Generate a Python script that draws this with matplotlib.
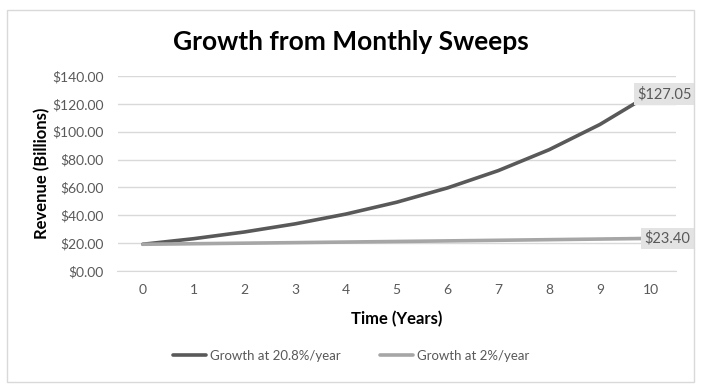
import matplotlib
matplotlib.use("Agg")
import matplotlib.pyplot as plt
from matplotlib.patches import Rectangle

years = [0, 1, 2, 3, 4, 5, 6, 7, 8, 9, 10]
growth_high = [19.20, 23.19, 28.02, 33.85, 40.89, 49.39, 59.66, 72.07, 87.06, 105.17, 127.05]
growth_low = [19.20, 19.58, 19.98, 20.37, 20.78, 21.20, 21.62, 22.05, 22.50, 22.94, 23.40]
yticks = [0, 20, 40, 60, 80, 100, 120, 140]
series_names = ["Growth at 20.8%/year", "Growth at 2%/year"]

plt.rcParams['font.family'] = ['Lato', 'DejaVu Sans']

W, H = 701, 391
fig = plt.figure(figsize=(W/100, H/100), dpi=100)
fig.patch.set_facecolor('white')
fig.add_artist(Rectangle((7/W, 1-382/H), (694-7)/W, (382-10)/H, transform=fig.transFigure,
                         fill=False, edgecolor='#D9D9D9', linewidth=1))

left, right, top, bottom = 117.5/W, 676/W, 76/H, 271/H
ax = fig.add_axes([left, 1-bottom, right-left, bottom-top])
dark = '#595959'
light = '#A6A6A6'
l1, = ax.plot(years, growth_high, color=dark, lw=2.6, solid_capstyle='round', zorder=3)
l2, = ax.plot(years, growth_low, color=light, lw=2.6, solid_capstyle='round', zorder=3)
ax.set_xlim(-0.5, 10.5)
ax.set_ylim(0, 140)
ax.set_yticks(yticks)
ax.set_yticklabels([f"${v:.2f}" for v in yticks])
ax.set_xticks(years)
ax.grid(axis='y', color='#D9D9D9', lw=1)
ax.set_axisbelow(True)
for s in ['top', 'right', 'left']:
    ax.spines[s].set_visible(False)
ax.spines['bottom'].set_color('#D9D9D9')
ax.tick_params(length=0, labelsize=10, colors='#595959', pad=9)
ax.tick_params(axis='y', pad=10)
ax.set_xlabel("Time (Years)", fontsize=12, fontweight='bold', color='black', labelpad=11)
ax.set_ylabel("Revenue (Billions)", fontsize=12, fontweight='bold', color='black', labelpad=1)

bbox = dict(boxstyle='square,pad=0.25', facecolor='#E3E3E3', edgecolor='none')
ax.annotate(f"${growth_high[-1]:.2f}", (years[-1], growth_high[-1]), xytext=(10, 0),
            textcoords='offset points', ha='center', va='center', fontsize=10.5,
            color='#595959', bbox=bbox, annotation_clip=False, zorder=5)
ax.annotate(f"${growth_low[-1]:.2f}", (years[-1], growth_low[-1]), xytext=(12, 0),
            textcoords='offset points', ha='center', va='center', fontsize=10.5,
            color='#595959', bbox=bbox, annotation_clip=False, zorder=5)

fig.text(351/W, 1-42/H, "Growth from Monthly Sweeps", ha='center', va='center',
         fontsize=19, fontweight='bold', color='black')

fig.legend([l1, l2], series_names, loc='center', bbox_to_anchor=(351/W, 1-356/H),
           ncol=2, frameon=False, fontsize=9.5, labelcolor='#595959',
           handlelength=2.5, handletextpad=0.3, columnspacing=3)

fig.savefig("out.png", dpi=100)
